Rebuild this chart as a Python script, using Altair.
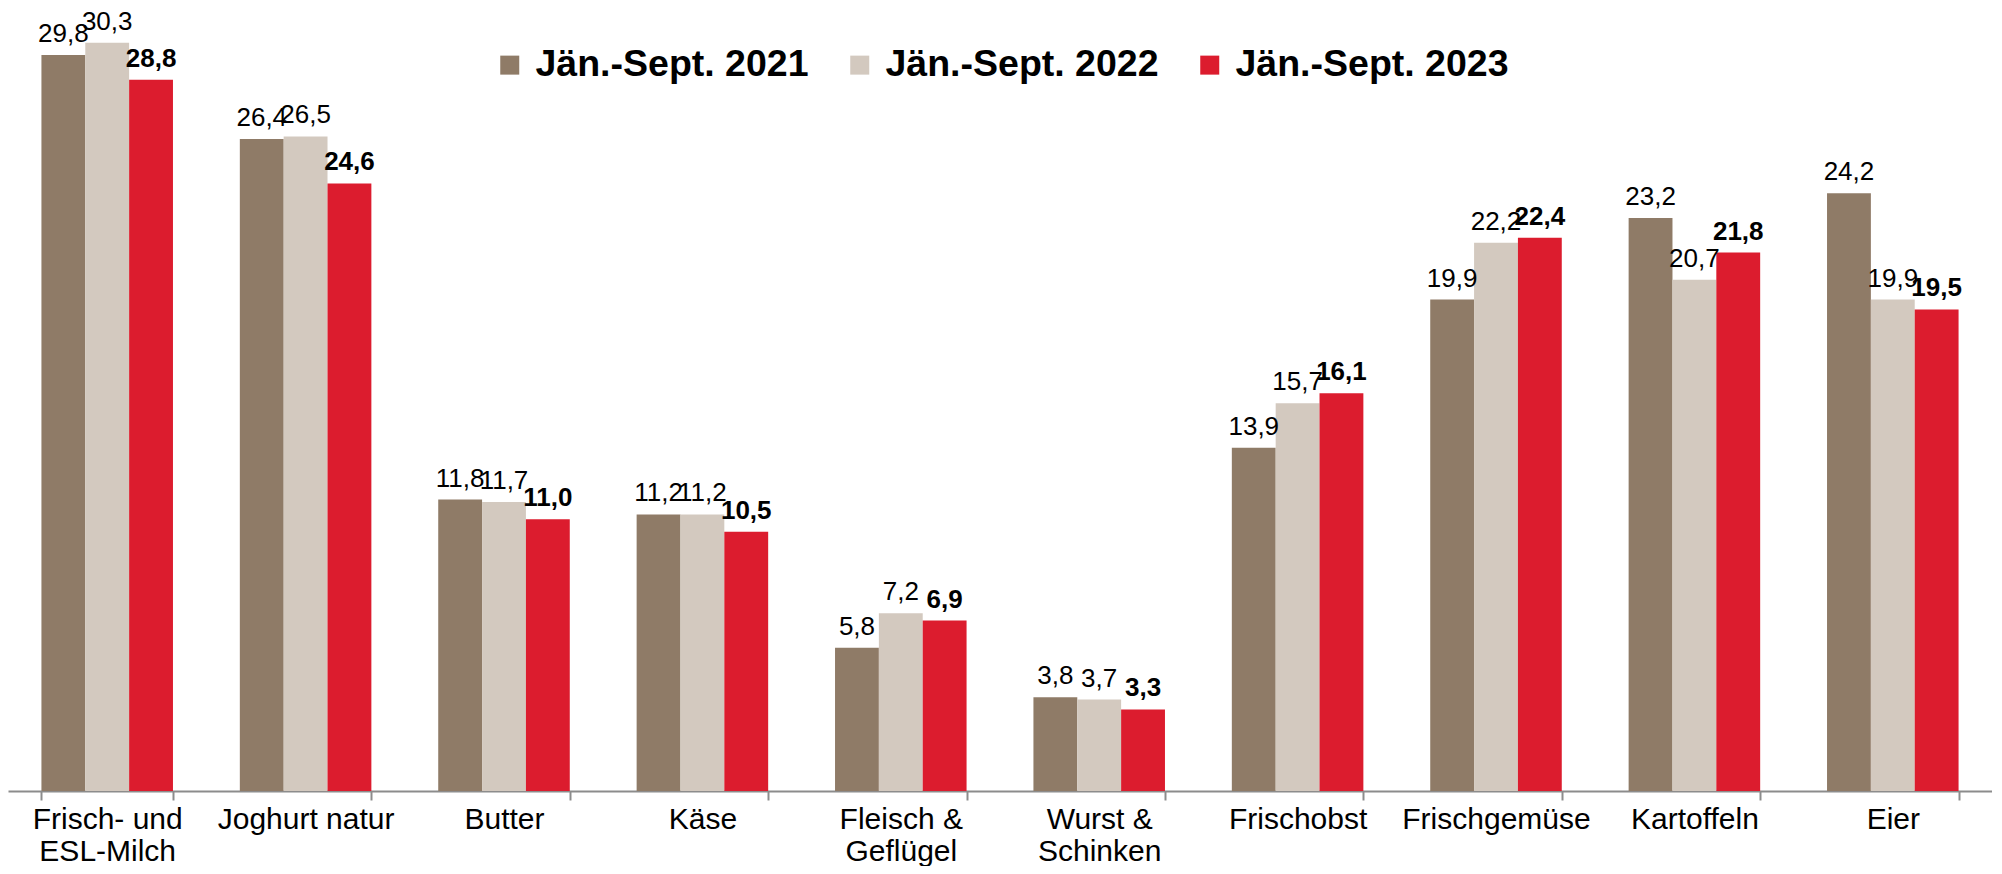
import altair as alt
import pandas as pd

categories = ["Frisch- und\nESL-Milch", "Joghurt natur", "Butter", "Käse", "Fleisch &\nGeflügel",
              "Wurst &\nSchinken", "Frischobst", "Frischgemüse", "Kartoffeln", "Eier"]
series = ["Jän.-Sept. 2021", "Jän.-Sept. 2022", "Jän.-Sept. 2023"]
v2021 = [29.8, 26.4, 11.8, 11.2, 5.8, 3.8, 13.9, 19.9, 23.2, 24.2]
v2022 = [30.3, 26.5, 11.7, 11.2, 7.2, 3.7, 15.7, 22.2, 20.7, 19.9]
v2023 = [28.8, 24.6, 11.0, 10.5, 6.9, 3.3, 16.1, 22.4, 21.8, 19.5]
colors = ["#8F7B67", "#D3C9BF", "#DC1C2E"]

rows = []
for s, vals in zip(series, [v2021, v2022, v2023]):
    for c, v in zip(categories, vals):
        rows.append({"Kategorie": c, "Zeitraum": s, "Wert": v})
df = pd.DataFrame(rows)

FONT = "Liberation Sans"

base = alt.Chart(df).encode(
    x=alt.X("Kategorie:N", sort=categories,
            scale=alt.Scale(paddingInner=0.337, paddingOuter=0.1685),
            axis=alt.Axis(title=None, labelAngle=0, tickBand="extent",
                          labelExpr="isValid(datum.value) ? split(datum.value, '\\n') : ''",
                          labelFont=FONT, labelFontSize=30, labelColor="#000000",
                          labelLineHeight=32, labelPadding=4, labelLimit=0,
                          domainColor="#8C8C8C", domainWidth=2,
                          tickColor="#8C8C8C", tickWidth=2, tickSize=9)),
    xOffset=alt.XOffset("Zeitraum:N", sort=series,
                        scale=alt.Scale(domain=series, paddingInner=0, paddingOuter=0)),
    y=alt.Y("Wert:Q", scale=alt.Scale(domain=[0, 31.5], nice=False), axis=None),
)

bars = base.mark_bar().encode(
    color=alt.Color("Zeitraum:N", sort=series,
                    scale=alt.Scale(domain=series, range=colors),
                    legend=alt.Legend(title=None, orient="none", legendX=483, legendY=33,
                                      direction="horizontal", symbolType="square",
                                      symbolSize=361, symbolStrokeWidth=0,
                                      labelFont=FONT, labelFontSize=37.5,
                                      labelFontWeight="bold", labelColor="#000000",
                                      labelLimit=0, labelOffset=7, columnPadding=32,
                                      padding=0))
)

label_expr = "replace(format(datum.Wert, '.1f'), '.', ',')"

labels_normal = base.transform_filter(
    alt.datum.Zeitraum != series[2]
).transform_calculate(label=label_expr).mark_text(
    font=FONT, fontSize=26, color="#000000", baseline="alphabetic", dy=-13
).encode(text="label:N")

labels_bold = base.transform_filter(
    alt.datum.Zeitraum == series[2]
).transform_calculate(label=label_expr).mark_text(
    font=FONT, fontSize=26, fontWeight="bold", color="#000000", baseline="alphabetic", dy=-13
).encode(text="label:N")

chart = alt.layer(bars, labels_normal, labels_bold).properties(
    width=1984, height=778, padding=0
).configure_view(stroke=None)

chart.save("out.html", embed_options={"renderer": "svg", "actions": False})
